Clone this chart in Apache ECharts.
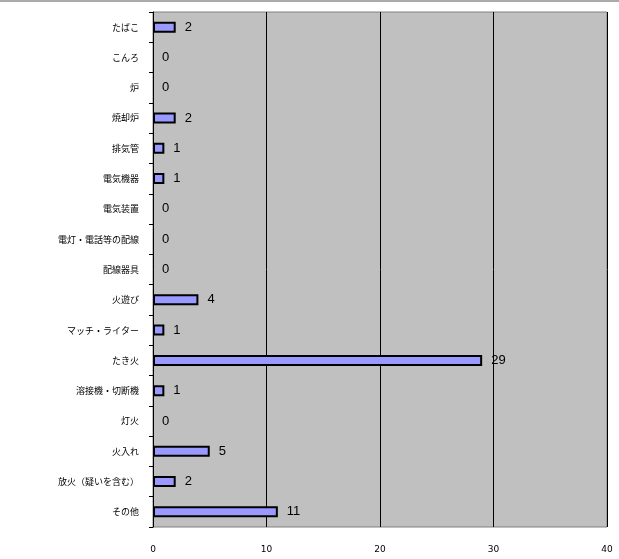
<!DOCTYPE html>
<html><head><meta charset="utf-8">
<script src="https://cdn.jsdelivr.net/npm/echarts@6/dist/echarts.min.js"></script>
<style>html,body{margin:0;background:#fff}#c{width:619px;height:559px;border-top:2px solid #aaa;box-sizing:border-box}</style>
</head><body><div id="c"></div>
<script>
const categories = ['たばこ','こんろ','炉','焼却炉','排気管','電気機器','電気装置','電灯・電話等の配線','配線器具','火遊び','マッチ・ライター','たき火','溶接機・切断機','灯火','火入れ','放火（疑いを含む）','その他'];
const values = [2,0,0,2,1,1,0,0,0,4,1,29,1,0,5,2,11];
const xTicks = [0,10,20,30,40];

const chart = echarts.init(document.getElementById('c'));
chart.setOption({
  animation: false,
  grid: { left: 153, right: 12, top: 10, bottom: 32, backgroundColor: '#c0c0c0', show: true, borderColor: '#808080', borderWidth: 1 },
  xAxis: {
    type: 'value', min: xTicks[0], max: xTicks[xTicks.length - 1], interval: 10,
    axisLine: { show: false }, axisTick: { show: false },
    splitLine: { lineStyle: { color: '#000', width: 1 } },
    axisLabel: { margin: 18, fontSize: 9, color: '#000', fontFamily: 'DejaVu Sans' }
  },
  yAxis: {
    type: 'category', inverse: true, data: categories,
    axisLine: { show: true, lineStyle: { color: '#000' } },
    axisTick: { show: true, length: 4, lineStyle: { color: '#000' } },
    axisLabel: { fontSize: 9, color: '#000', margin: 14, fontFamily: 'Noto Sans CJK JP' }
  },
  series: [{
    type: 'bar', data: values.map(v => v === 0 ? { value: v, itemStyle: { borderWidth: 0 } } : v), barWidth: 11,
    itemStyle: { color: '#9999ff', borderColor: '#000', borderWidth: 2 },
    label: { show: true, position: 'right', distance: 9, fontSize: 13, color: '#000', fontFamily: 'Liberation Sans' }
  }]
});
</script></body></html>
